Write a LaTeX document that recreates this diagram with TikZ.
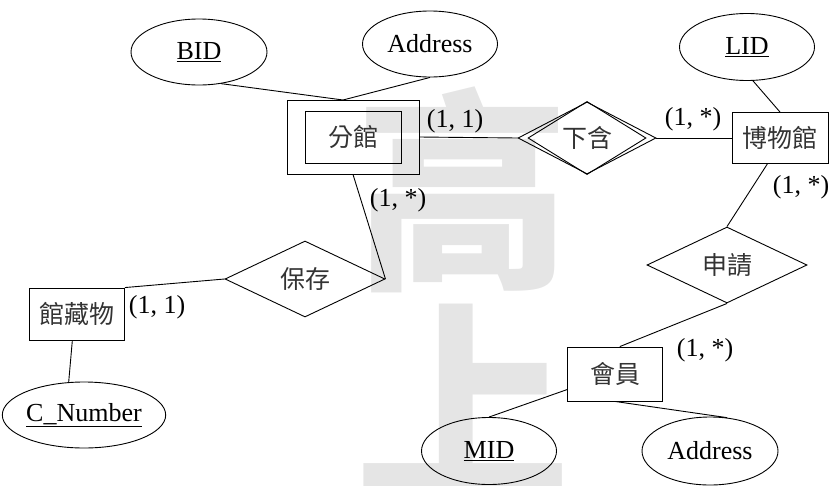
\documentclass[tikz,border=0pt]{standalone}
\usepackage{fontspec}
\setmainfont{Liberation Serif}
\newfontfamily\cjk{Noto Sans CJK TC}
\usetikzlibrary{shapes.geometric}
\tikzset{
  every node/.style={font=\fontsize{26}{30}\selectfont},
  attr/.style={draw, ellipse, inner sep=0pt, line width=0.9pt},
  ent/.style={draw, rectangle, inner sep=0pt, line width=0.9pt},
  rel/.style={draw, diamond, inner sep=0pt, line width=0.9pt},
  lbl/.style={inner sep=0pt},
  conn/.style={line width=0.9pt},
  cjklbl/.style={font=\fontsize{25}{30}\selectfont\cjk, text=black!80},
  wm/.style={font=\fontsize{215}{215}\selectfont\cjk\bfseries, text=black!10, inner sep=0pt}
}
\begin{document}
\begin{tikzpicture}[x=1pt,y=-1pt]
\useasboundingbox (0,0) rectangle (829,485);
% watermark
\node[wm] (wmA) at (463,190) {高};
\node[wm] (wmB) at (463,400) {上};
% attributes
\node[attr, minimum width=136, minimum height=66] (bid) at (199,52) {\underline{BID}};
\node[attr, minimum width=135, minimum height=66] (addra) at (430,44) {Address};
\node[attr, minimum width=135, minimum height=67] (lid) at (747,47) {\underline{LID}};
\node[attr, minimum width=154, minimum height=66] (cn) at (84,415) {\underline{C\_Number}};
\node[attr, minimum width=135, minimum height=67] (mid) at (489,451) {\underline{MID}};
\node[attr, minimum width=136, minimum height=68] (addrb) at (710,451) {Address};
% entities
\node[ent, minimum width=132, minimum height=74] (fgo) at (353,137) {};
\node[ent, cjklbl, minimum width=96, minimum height=52] (fg) at (353,137) {分館};
\node[ent, cjklbl, minimum width=96, minimum height=51] (bwg) at (780,138) {博物館};
\node[ent, cjklbl, minimum width=95, minimum height=52] (gc) at (77,314) {館藏物};
\node[ent, cjklbl, minimum width=95, minimum height=54] (hy) at (615,374) {會員};
% relationships
\node[rel, minimum width=138, minimum height=72] (hho) at (587,138) {};
\node[rel, cjklbl, minimum width=118, minimum height=52] (hh) at (587,138) {下含};
\node[rel, cjklbl, minimum width=160, minimum height=76] (bc) at (305,279) {保存};
\node[rel, cjklbl, minimum width=160, minimum height=76] (sq) at (727,265) {申請};
% connectors
\coordinate (fgtop) at (343,100);
\draw[conn] (bid.-55) -- (fgtop);
\draw[conn] (addra.south) -- (fgtop);
\draw[conn] (fgo.east) -- (hho.west);
\draw[conn] (hho.east) -- (bwg.west);
\draw[conn] (lid.-80) -- (bwg.north);
\draw[conn] (bwg.-116) -- (sq.north);
\draw[conn] (sq.south) -- (hy.80);
\draw[conn] (hy.198) -- (mid.north);
\draw[conn] (hy.south) -- (addrb.63);
\draw[conn] (fgo.south) -- (bc.east);
\draw[conn] (bc.west) -- (gc.north east);
\draw[conn] (gc.-100) -- (cn.115);
% cardinalities
\node[lbl] (c1) at (455,121) {(1, 1)};
\node[lbl] (c2) at (693,119) {(1, *)};
\node[lbl] (c3) at (801,187) {(1, *)};
\node[lbl] (c4) at (705,350) {(1, *)};
\node[lbl] (c5) at (398,200) {(1, *)};
\node[lbl] (c6) at (157,307) {(1, 1)};
\end{tikzpicture}
\end{document}
